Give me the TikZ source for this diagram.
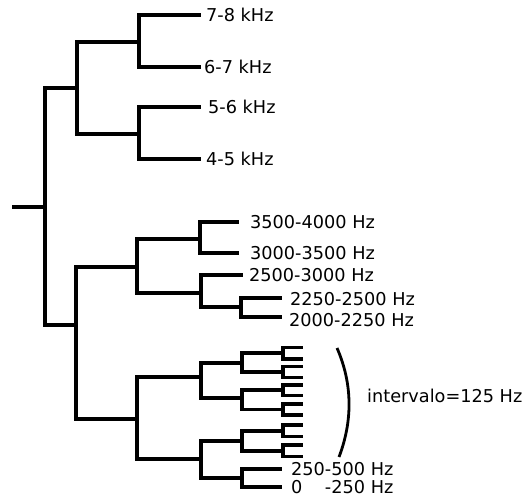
\documentclass[tikz,border=0pt]{standalone}
\usepackage{fontspec}
\setmainfont{DejaVu Sans}
\begin{document}
\begin{tikzpicture}[x=1pt,y=-1pt,
  treeline/.style={draw=black,line width=3.2pt,line join=miter,line cap=butt},
  lbl/.style={anchor=base west,inner sep=0pt,font=\fontsize{17.7}{20}\selectfont}]
\useasboundingbox (0,0) rectangle (526,500);
% junctions
\coordinate (stub) at (12,207);
\coordinate (root) at (45,207);
\coordinate (A) at (77,88);
\coordinate (A1) at (139,42);
\coordinate (A2) at (139,134);
\coordinate (L78) at (201,15);
\coordinate (L67) at (201,67);
\coordinate (L56) at (201,107);
\coordinate (L45) at (201,159);
\coordinate (B) at (76,325);
\coordinate (B1) at (137,267);
\coordinate (B11) at (200,239);
\coordinate (B12) at (201,293);
\coordinate (L3540) at (239,222);
\coordinate (L3035) at (239,253);
\coordinate (L2530) at (243,275);
\coordinate (B122) at (241,307);
\coordinate (L2225) at (282,298);
\coordinate (L2022) at (282,317);
\coordinate (B2) at (137,419);
\coordinate (C1) at (201,377);
\coordinate (C2) at (201,459);
\coordinate (C11) at (242,363);
\coordinate (C12) at (242,398);
\coordinate (C21) at (242,441);
\coordinate (C22) at (242,478);
\coordinate (D1) at (283,353);
\coordinate (D2) at (283,372);
\coordinate (D3) at (283,390);
\coordinate (D4) at (283,409.5);
\coordinate (D5) at (283,431);
\coordinate (D6) at (283,451);
\coordinate (E1) at (303,347.7);
\coordinate (E2) at (303,359);
\coordinate (E3) at (303,366.7);
\coordinate (E4) at (303,377.7);
\coordinate (E5) at (303,385);
\coordinate (E6) at (303,395.7);
\coordinate (E7) at (303,404);
\coordinate (E8) at (303,415);
\coordinate (E9) at (303,425);
\coordinate (E10) at (303,436.7);
\coordinate (E11) at (303,445);
\coordinate (E12) at (303,456.7);
\coordinate (L25) at (282,469);
\coordinate (L02) at (282,487);
% edges
\draw[treeline] (stub) -- (root);
\foreach \p/\c in {root/A,root/B,A/A1,A/A2,A1/L78,A1/L67,A2/L56,A2/L45,
  B/B1,B/B2,B1/B11,B1/B12,B11/L3540,B11/L3035,B12/L2530,B12/B122,B122/L2225,B122/L2022,
  B2/C1,B2/C2,C1/C11,C1/C12,C2/C21,C2/C22,C11/D1,C11/D2,C12/D3,C12/D4,C21/D5,C21/D6,
  D1/E1,D1/E2,D2/E3,D2/E4,D3/E5,D3/E6,D4/E7,D4/E8,D5/E9,D5/E10,D6/E11,D6/E12,
  C22/L25,C22/L02}
  \path[treeline] (\p) |- (\c);
% labels
\node[lbl] (t78) at (206,21.5) {7-8 kHz};
\node[lbl] (t67) at (204,73.5) {6-7 kHz};
\node[lbl] (t56) at (208,113.5) {5-6 kHz};
\node[lbl] (t45) at (206,165.5) {4-5 kHz};
\node[lbl] (t3540) at (250,228.5) {3500-4000 Hz};
\node[lbl] (t3035) at (250,259.5) {3000-3500 Hz};
\node[lbl] (t2530) at (249,281.5) {2500-3000 Hz};
\node[lbl] (t2225) at (290,305) {2250-2500 Hz};
\node[lbl] (t2022) at (289,326) {2000-2250 Hz};
\node[lbl] (t25) at (291,475.5) {250-500 Hz};
\node[lbl] (t02) at (291,493.5) {0\phantom{25}-250 Hz};
\node[lbl] (tint) at (367,402.5) {intervalo=125 Hz};
% bracket
\coordinate (brT) at (337,348);
\coordinate (brB) at (339,457);
\draw[line width=2.8pt] (brT) .. controls (352.7,384) and (352.7,421) .. (brB);
\end{tikzpicture}
\end{document}
